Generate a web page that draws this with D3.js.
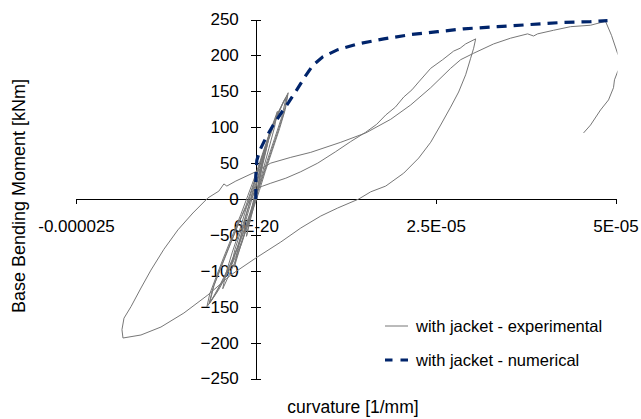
<!DOCTYPE html>
<html>
<head>
<meta charset="utf-8">
<script src="https://cdn.jsdelivr.net/npm/d3@7"></script>
<style>
  body { margin: 0; background: #fff; }
  text { font-family: "Liberation Sans", Arial, sans-serif; fill: #000; }
</style>
</head>
<body>
<div id="chart"></div>
<script>
// curvature lists are written in 1e-6 /mm, moments in kNm
const CURV_UNIT = 1e-6;

const xTicks = [-0.000025, 0, 0.000025, 0.00005];
const xTickLabels = ["-0.000025", "6E-20", "2.5E-05", "5E-05"];
const yTicks = [-250, -200, -150, -100, -50, 0, 50, 100, 150, 200, 250];

const seriesNames = ["with jacket - experimental", "with jacket - numerical"];

// numerical (pushover) curve
const numCurv = [0, 0, 0.14, 0.56, 1.39, 2.36, 3.47, 4.58, 5.69, 6.81, 7.92, 9.31, 11.39,
  14.17, 17.78, 21.53, 25.28, 28.89, 33.61, 38.19, 42.78, 46.53, 48.89];
const numMoment = [0, 33, 54, 68, 85, 102, 119, 135, 152, 170, 186, 198, 208,
  216, 223, 229, 233, 237, 240, 243, 246, 247, 248.5];

// experimental: small cycles near the origin
const expSmallCycles = [
  [0, 0], [0.4, 25], [0.8, 45], [1.0, 55], [0.7, 35], [0.2, 10], [-0.4, -15], [-0.9, -35], [-1.3, -52],
  [-0.9, -30], [-0.4, -5], [0.1, 20], [0.7, 45], [1.3, 70], [2.0, 95], [1.6, 75], [0.9, 45], [0.2, 15],
  [-0.6, -15], [-1.5, -45], [-2.4, -75], [-3.0, -95], [-2.5, -70], [-1.8, -40], [-1.0, -10], [-0.2, 20],
  [0.6, 50], [1.4, 75], [2.2, 100], [3.0, 122], [2.6, 100], [1.8, 70], [1.0, 40], [0.2, 10], [-0.8, -25],
  [-1.9, -60], [-3.0, -90], [-4.0, -112], [-4.6, -125], [-4.2, -105], [-3.3, -75], [-2.3, -45], [-1.3, -12],
  [-0.3, 20], [0.7, 50], [1.2, 66], [1.8, 85], [1.4, 68], [0.6, 38], [-0.4, 5], [-1.4, -30], [-2.6, -68],
  [-3.4, -92], [-2.9, -70], [-2.0, -42], [-1.0, -10], [0, 22], [0.9, 52],
  [1.7, 80], [2.7, 108], [3.7, 132], [4.5, 148], [4.1, 125], [3.3, 98], [2.3, 68],
  [1.3, 38], [0.5, 12], [-0.5, -18], [-1.6, -50], [-2.8, -80], [-4.0, -105], [-5.2, -127], [-6.2, -142],
  [-6.8, -150], [-6.4, -132], [-5.5, -108], [-4.5, -82], [-3.3, -52], [-2.1, -22], [-1.1, 5], [-0.1, 32],
  [0.9, 62], [1.9, 92], [2.9, 116], [3.9, 137], [4.4, 145], [3.9, 120], [3.0, 92], [2.0, 62], [1.0, 32],
  [0.2, 8], [-0.8, -22], [-2.0, -55], [-3.2, -85], [-4.4, -110], [-5.6, -132], [-6.5, -146], [-6.0, -125],
  [-5.0, -98], [-3.8, -68], [-2.6, -38], [-1.4, -10], [-0.5, 16], [0.4, 44], [1.3, 72], [2.3, 100],
  [3.2, 122], [4.0, 138], [4.2, 141], [3.6, 114], [2.6, 84], [1.6, 54], [0.6, 22], [-0.3, -4],
  [-1.3, -34], [-2.5, -66], [-3.7, -94], [-4.9, -118], [-6.0, -138], [-6.4, -144], [-5.8, -120],
  [-4.7, -92], [-3.5, -62], [-2.3, -32], [-1.2, -8], [-0.5, 3]
];

// first large excursion up to ~30e-6
const expFirstLoad = [
  [0.28, 15], [0.97, 18], [2.08, 22], [4.17, 29], [6.25, 38], [8.61, 50], [11.11, 66], [13.19, 80],
  [15.28, 93], [16.8, 104], [18.06, 117], [19.4, 128], [20.56, 142], [21.7, 152], [22.64, 163],
  [24.31, 182], [25.97, 194], [27.5, 206], [28.4, 210], [29.17, 216], [30.56, 223]
];

// unloading to the negative peak
const expUnload = [
  [30.28, 210], [29.86, 196], [29.17, 173], [28.19, 149], [27.08, 128], [25.69, 103], [24.31, 79],
  [22.64, 57], [20.56, 36], [18.06, 18], [15.97, 10], [14.31, 0], [11.39, -12.5], [9.03, -23.7],
  [6.25, -40.4], [3.47, -59.9], [0, -82.2], [-3.47, -105.8], [-6.67, -133.7], [-10, -158.8],
  [-13.19, -178.3], [-15.97, -189.4], [-18.47, -193.6]
];

// reloading to the maximum and final descent
const expReload = [
  [-18.61, -182], [-18.33, -166], [-17.36, -150], [-15.97, -124], [-14.58, -99], [-12.78, -70],
  [-10.83, -43], [-8.75, -19.5], [-6.67, 1.4], [-5.14, 11], [-4.44, 21], [-4.03, 18], [-2.78, 25],
  [0, 38], [2.08, 50], [4.86, 58], [7.64, 65], [11.81, 79], [15.28, 92], [18.75, 111], [21.53, 131],
  [24.31, 155], [27.08, 182], [28.47, 194], [30.28, 203], [33.06, 216], [35.42, 224], [37.78, 230],
  [38.61, 227], [39.17, 230], [41.39, 235], [43.75, 240], [46.53, 242], [48.61, 247.5], [49.44, 228],
  [50.28, 203], [50.83, 191], [50.56, 182], [50.28, 177], [49.86, 166], [49.72, 155], [49.03, 138],
  [47.92, 124], [46.53, 103], [45.56, 92]
];

const width = 641, height = 419;

const svg = d3.select("#chart")
  .append("svg")
  .attr("width", width)
  .attr("height", height);

const x = d3.scaleLinear().domain([-0.000025, 0.00005]).range([76, 615.5]);
const y = d3.scaleLinear().domain([-250, 250]).range([378.5, 19.5]);

// axes cross at zero
svg.append("g")
  .attr("transform", `translate(${x(0)},0)`)
  .call(d3.axisLeft(y).tickValues(yTicks).tickSize(5).tickPadding(12).tickSizeOuter(0));
svg.append("g")
  .attr("transform", `translate(${x(0)},0)`)
  .call(d3.axisRight(y).tickValues(yTicks).tickSize(5).tickFormat("").tickSizeOuter(0))
  .call(g => g.select(".domain").remove());

svg.append("g")
  .attr("transform", `translate(0,${y(0)})`)
  .call(d3.axisBottom(x).tickValues(xTicks).tickFormat((d, i) => xTickLabels[i])
    .tickSize(5).tickPadding(16).tickSizeOuter(0));

svg.selectAll(".tick line, .domain").attr("shape-rendering", "crispEdges");
svg.selectAll(".tick text")
  .attr("font-family", "Liberation Sans, Arial, sans-serif")
  .attr("font-size", 17);

// clip at the plot area
svg.append("clipPath").attr("id", "plot-clip")
  .append("rect").attr("x", x.range()[0]).attr("y", 0)
  .attr("width", x.range()[1] - x.range()[0] + 2).attr("height", height);

const line = d3.line()
  .x(d => x(d[0] * CURV_UNIT))
  .y(d => y(d[1]));

const expData = [].concat(expSmallCycles, expFirstLoad, expUnload, expReload);
const numData = numCurv.map((c, i) => [c, numMoment[i]]);

svg.append("path")
  .datum(expData)
  .attr("clip-path", "url(#plot-clip)")
  .attr("fill", "none")
  .attr("stroke", "#777")
  .attr("stroke-width", 1)
  .attr("d", line);

svg.append("path")
  .datum(numData)
  .attr("fill", "none")
  .attr("stroke", "#00246b")
  .attr("stroke-width", 3.2)
  .attr("stroke-dasharray", "10,7")
  .attr("d", line);

// axis titles
svg.append("text")
  .attr("x", 353).attr("y", 407).attr("dy", "0.35em")
  .attr("text-anchor", "middle")
  .attr("font-size", 17.5)
  .text("curvature [1/mm]");

svg.append("text")
  .attr("transform", "translate(19,196) rotate(-90)")
  .attr("dy", "0.35em")
  .attr("text-anchor", "middle")
  .attr("font-size", 18)
  .text("Base Bending Moment [kNm]");

// legend
const legend = svg.append("g").attr("transform", "translate(385,326)");
legend.append("line")
  .attr("x1", 0).attr("x2", 23).attr("y1", 0).attr("y2", 0)
  .attr("stroke", "#777").attr("stroke-width", 1);
legend.append("line")
  .attr("x1", 0).attr("x2", 23).attr("y1", 34).attr("y2", 34)
  .attr("stroke", "#00246b").attr("stroke-width", 3.2)
  .attr("stroke-dasharray", "7.5,8");
legend.selectAll("text.lbl")
  .data(seriesNames)
  .enter()
  .append("text")
  .attr("class", "lbl")
  .attr("x", 31)
  .attr("y", (d, i) => i * 34)
  .attr("dy", "0.35em")
  .attr("font-size", 16.5)
  .text(d => d);
</script>
</body>
</html>
